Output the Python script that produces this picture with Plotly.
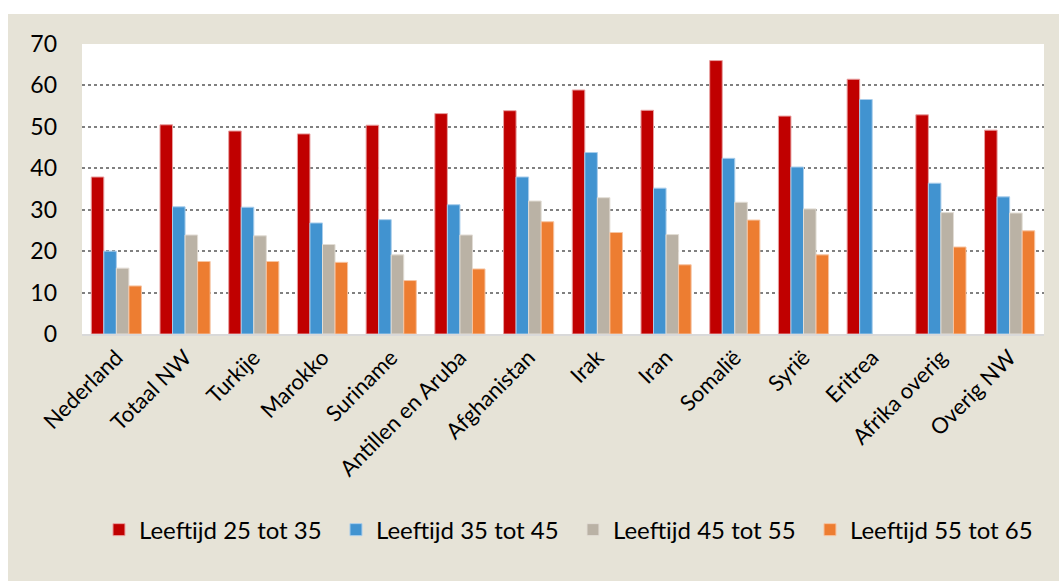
import plotly.graph_objects as go

categories = ["Nederland", "Totaal NW", "Turkije", "Marokko", "Suriname",
              "Antillen en Aruba", "Afghanistan", "Irak", "Iran", "Somalië",
              "Syrië", "Eritrea", "Afrika overig", "Overig NW"]

leeftijd_25_35 = [37.9, 50.5, 49.0, 48.3, 50.4, 53.2, 53.9, 58.9, 54.0, 66.0, 52.6, 61.5, 52.9, 49.2]
leeftijd_35_45 = [20.0, 30.7, 30.6, 26.8, 27.6, 31.2, 37.9, 43.8, 35.2, 42.4, 40.3, 56.6, 36.4, 33.1]
leeftijd_45_55 = [15.9, 23.9, 23.7, 21.6, 19.1, 23.9, 32.1, 32.9, 24.0, 31.8, 30.2, None, 29.3, 29.2]
leeftijd_55_65 = [11.6, 17.5, 17.5, 17.3, 12.9, 15.7, 27.1, 24.5, 16.7, 27.5, 19.1, None, 21.0, 24.9]

series = [
    ("Leeftijd 25 tot 35", leeftijd_25_35, "#C00000", "#E8A0A0"),
    ("Leeftijd 35 tot 45", leeftijd_35_45, "#4193D0", "#A8CDEB"),
    ("Leeftijd 45 tot 55", leeftijd_45_55, "#BAB2A5", "#E2DDD5"),
    ("Leeftijd 55 tot 65", leeftijd_55_65, "#ED7D31", "#F6C4A2"),
]

fig = go.Figure()
for name, vals, color, edge in series:
    fig.add_trace(go.Bar(
        x=categories, y=vals, name=name,
        marker=dict(color=color, line=dict(color=edge, width=1)),
    ))

font_family = "Lato, 'Open Sans', sans-serif"

# white margin strips along the top and left edges of the beige panel
fig.add_shape(type="rect", xref="paper", yref="paper", layer="below",
              x0=-0.2, x1=1.1, y0=1.1034, y1=1.3,
              fillcolor="#FFFFFF", line=dict(width=0))
fig.add_shape(type="rect", xref="paper", yref="paper", layer="below",
              x0=-0.2, x1=-0.0769, y0=-1.0, y1=1.3,
              fillcolor="#FFFFFF", line=dict(width=0))

fig.update_layout(
    width=1059, height=581,
    margin=dict(l=82, r=15, t=44, b=247, autoexpand=False),
    paper_bgcolor="#E6E3D7",
    plot_bgcolor="#FFFFFF",
    barmode="group",
    bargap=0.27,
    bargroupgap=0,
    font=dict(family=font_family, size=23, color="#000000"),
    showlegend=True,
    legend=dict(
        orientation="h",
        x=1.0031, xanchor="right",
        y=-0.676, yanchor="middle",
        font=dict(size=24),
        bgcolor="rgba(0,0,0,0)",
        itemwidth=30,
        entrywidth=192, entrywidthmode="pixels",
        traceorder="normal",
    ),
    xaxis=dict(
        tickangle=-45,
        tickfont=dict(size=22),
        showgrid=False,
        showline=True, linecolor="#D9D9D9", linewidth=2,
        ticks="",
        automargin=False,
    ),
    yaxis=dict(
        range=[0, 70],
        dtick=10,
        tickfont=dict(size=23),
        showgrid=True, gridcolor="#808080", griddash="dot", gridwidth=1.5,
        zeroline=False,
        ticks="",
        ticklabelstandoff=24,
        automargin=False,
    ),
)

fig.write_html("out.html")
